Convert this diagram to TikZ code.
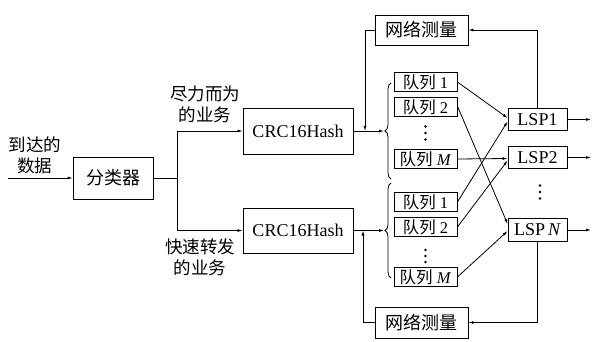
\documentclass[tikz,border=0pt]{standalone}
\usepackage{fontspec}
\setmainfont{Liberation Serif}
\newfontfamily\cjk{Noto Sans CJK SC}
\usetikzlibrary{arrows.meta,decorations.pathreplacing}
\begin{document}
\begin{tikzpicture}[x=1pt,y=-1pt, line width=0.8pt,
  box/.style={draw, inner sep=0pt, font=\fontsize{18}{20}\selectfont},
  qbox/.style={draw, inner sep=0pt, minimum width=63pt, minimum height=19pt, font=\fontsize{16.5}{17}\selectfont},
  lspbox/.style={box, minimum width=59pt, minimum height=22pt},
  netbox/.style={box, minimum width=93pt, minimum height=30pt},
  arr/.style={-{Latex[length=5pt,width=3pt]}},
  lab/.style={align=center, font=\fontsize{17.5}{21}\selectfont\cjk, inner sep=0pt},
  dotfill/.style={fill=black},
  bracestyle/.style={decorate, decoration={brace, amplitude=6pt}}]
\useasboundingbox (0,0) rectangle (592,342);
% input
\node[lab] (in) at (35,155) {到达的\\数据};
\coordinate (src) at (8,178);
\node[box, minimum width=80pt, minimum height=42pt] (cls) at (113,178) {\cjk 分类器};
\draw[arr] (src) -- (cls.west);
% hash boxes
\coordinate (br) at (177,178);
\node[box, minimum width=110pt, minimum height=46pt] (crc1) at (298,131) {CRC16Hash};
\node[box, minimum width=110pt, minimum height=45pt] (crc2) at (298,230.5) {CRC16Hash};
\draw (cls.east) -- (br);
\draw[arr] (br) |- (crc1.west);
\draw[arr] (br) |- (crc2.west);
\node[lab] (l1) at (205,104) {尽力而为\\的业务};
\node[lab] (l2) at (200,257) {快速转发\\的业务};
% network measurement
\node[netbox] (net1) at (421.5,30) {\cjk 网络测量};
\node[netbox, minimum height=31pt] (net2) at (421.5,322.5) {\cjk 网络测量};
% queues
\node[qbox] (q11) at (425.5,82) {{\cjk 队列} 1};
\node[qbox] (q12) at (425.5,107) {{\cjk 队列} 2};
\node[qbox] (q1M) at (425.5,159) {{\cjk 队列} \textit{M}};
\node[qbox] (q21) at (425.5,202) {{\cjk 队列} 1};
\node[qbox] (q22) at (425.5,227) {{\cjk 队列} 2};
\node[qbox] (q2M) at (425.5,277) {{\cjk 队列} \textit{M}};
% vertical ellipses
\foreach \yy in {126.5,133,139.5} \fill[dotfill] (425.5,\yy) circle (1.3pt);
\foreach \yy in {250,256,262} \fill[dotfill] (425.5,\yy) circle (1.3pt);
\foreach \yy in {185.5,192,198.5} \fill[dotfill] (540,\yy) circle (1.3pt);
% braces
\draw[bracestyle] (391,179) -- (391,83);
\draw[bracestyle] (391,278) -- (391,183);
\coordinate (b1) at (384,131);
\coordinate (b2) at (384,230.5);
\draw[arr] (crc1.east) -- (b1);
\draw[arr] (crc2.east) -- (b2);
% feedback
\coordinate (fb1) at (365,131);
\coordinate (fb2) at (363,230.5);
\draw[arr] (net1.west) -| (fb1);
\draw[arr] (net2.west) -| (fb2);
% LSPs
\node[lspbox] (lsp1) at (537.5,119.5) {LSP1};
\node[lspbox] (lsp2) at (537.5,157.5) {LSP2};
\node[lspbox, minimum height=23pt] (lspN) at (537.5,230) {LSP\,\textit{N}};
\draw[arr] (lsp1.north) |- (net1.east);
\draw[arr] (lspN.south) |- (net2.east);
% queue to LSP
\draw[arr] (q11.east) -- ([yshift=1.5pt]lsp1.west);
\draw[arr] ([yshift=1pt]q12.east) -- ([yshift=6pt]lspN.west);
\draw[arr] (q1M.east) -- ([yshift=-1pt]lsp2.west);
\draw[arr] (q21.east) -- ([yshift=-2pt]lsp1.west);
\draw[arr] (q22.east) -- ([yshift=-3pt]lsp2.west);
\draw[arr] (q2M.east) -- ([yshift=-1pt]lspN.west);
% outputs
\coordinate (oute) at (591,0);
\draw[arr] (lsp1.east) -- (lsp1.east -| oute);
\draw[arr] (lsp2.east) -- (lsp2.east -| oute);
\draw[arr] (lspN.east) -- (lspN.east -| oute);
\end{tikzpicture}
\end{document}
